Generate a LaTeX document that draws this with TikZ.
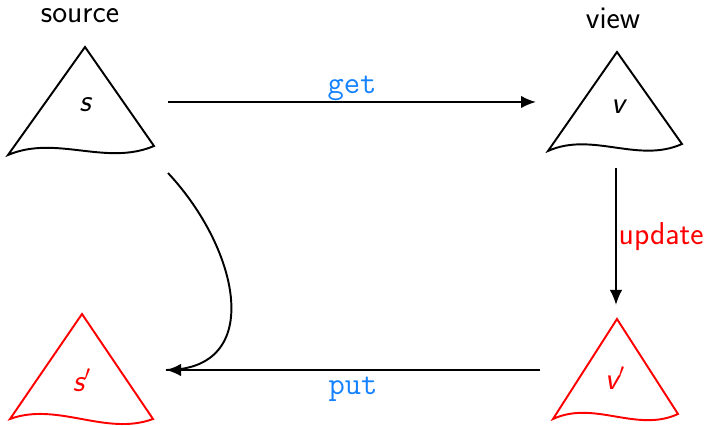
\documentclass[tikz,border=0pt]{standalone}
\usetikzlibrary{arrows.meta,calc}
\definecolor{codeblue}{RGB}{20,130,255}
\begin{document}
\begin{tikzpicture}[
	every node/.style={font=\sffamily\fontsize{18}{21}\selectfont},
	arr/.style={-{Latex[length=3mm,width=2.5mm]}, line width=1.1pt},
	tree/.style={line width=1.1pt},
	fun/.style={font=\ttfamily\fontsize{18}{21}\selectfont, text=codeblue}
]
\useasboundingbox (0,0) rectangle (14.16,8.52);
% trees: apex / left corner / right corner / colour
\foreach \ax/\ay/\lx/\ly/\rx/\ry/\c in {1.70/7.58/0.16/5.42/3.08/5.60/black, 12.34/7.48/10.96/5.50/13.64/5.64/black, 1.64/2.24/0.20/0.14/3.06/0.14/red, 12.34/2.14/11.06/0.14/13.56/0.24/red}
{
	\draw[tree, \c] (\ax,\ay) -- (\lx,\ly) .. controls ($(\lx,\ly)!0.33!(\rx,\ry)+(0,0.35)$) and ($(\lx,\ly)!0.67!(\rx,\ry)-(0,0.35)$) .. (\rx,\ry) -- cycle;
}
\node (srcname) at (1.60,8.20) {source};
\node (viewname) at (12.26,8.16) {view};
\node (s) at (1.70,6.42) {\itshape s};
\node (v) at (12.36,6.38) {\itshape v};
\node[red] (s2) at (1.64,0.92) {\itshape s$'$};
\node[red] (v2) at (12.30,0.96) {\itshape v$'$};
\coordinate (get0) at (3.36,6.48);
\coordinate (get1) at (10.72,6.48);
\coordinate (upd0) at (12.32,5.16);
\coordinate (upd1) at (12.32,2.42);
\coordinate (put0) at (10.80,1.12);
\coordinate (put1) at (3.32,1.12);
\coordinate (back0) at (3.36,5.06);
\draw[arr] (get0) -- (get1) node[fun, midway, above=-3pt] (getlbl) {get};
\draw[arr] (upd0) -- (upd1) node[red, midway, right, inner xsep=1pt] (updlbl) {update};
\draw[arr] (put0) -- (put1) node[fun, midway, below=0pt] (putlbl) {put};
\draw[tree] (back0) .. controls (4.80,3.52) and (5.30,1.12) .. (put1);
\end{tikzpicture}
\end{document}
